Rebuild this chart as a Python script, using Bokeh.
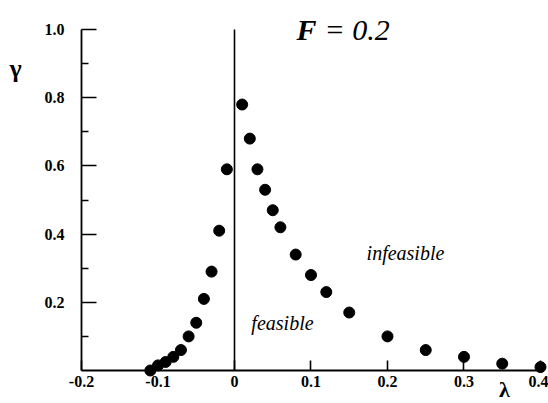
from bokeh.plotting import figure
from bokeh.models import Range1d, FixedTicker, CustomJSTickFormatter, Label, ColumnDataSource
from bokeh.embed import file_html
from bokeh.resources import INLINE

# ---- data ----
left_lambda = [-0.11, -0.10, -0.09, -0.08, -0.07, -0.06, -0.05, -0.04, -0.03, -0.02, -0.01]
left_gamma = [0.0, 0.015, 0.025, 0.04, 0.06, 0.10, 0.14, 0.21, 0.29, 0.41, 0.59]
right_lambda = [0.01, 0.02, 0.03, 0.04, 0.05, 0.06, 0.08, 0.10, 0.12, 0.15, 0.20, 0.25, 0.30, 0.35, 0.40]
right_gamma = [0.78, 0.68, 0.59, 0.53, 0.47, 0.42, 0.34, 0.28, 0.23, 0.17, 0.10, 0.06, 0.04, 0.02, 0.01]
divider_lambda = [0.0, 0.0]
divider_gamma = [0.0, 1.0]
x_ticks = [-0.2, -0.1, 0.0, 0.1, 0.2, 0.3, 0.4]
y_major_ticks = [0.2, 0.4, 0.6, 0.8, 1.0]
y_minor_ticks = [0.1, 0.3, 0.5, 0.7, 0.9]

SERIF = "Liberation Serif"

# frame covers the whole canvas; axes are placed at fixed data locations
p = figure(width=548, height=403, output_backend="svg", toolbar_location=None,
           x_range=Range1d(-0.30588, 0.41046), y_range=Range1d(-0.09677, 1.08504),
           min_border_left=0, min_border_right=0, min_border_top=0, min_border_bottom=0)
p.outline_line_color = None
p.xgrid.visible = False
p.ygrid.visible = False
p.background_fill_color = "white"

# divider line at lambda = 0
p.line(divider_lambda, divider_gamma, line_color="black", line_width=1.6)

src = ColumnDataSource(dict(x=left_lambda + right_lambda, y=left_gamma + right_gamma))
p.scatter("x", "y", source=src, size=11, fill_color="black", line_color="black")

# axes
xa = p.xaxis[0]
xa.fixed_location = 0
xa.bounds = (-0.2, 0.4)
xa.ticker = FixedTicker(ticks=x_ticks)
xa.formatter = CustomJSTickFormatter(code="return Math.abs(tick) < 1e-9 ? '0' : tick.toFixed(1);")
xa.major_tick_in = 10
xa.major_tick_out = 0
xa.minor_tick_line_color = None
xa.axis_line_width = 1.8
xa.major_tick_line_width = 1.6
xa.major_label_standoff = 5
xa.major_label_text_font = SERIF
xa.major_label_text_font_style = "bold"
xa.major_label_text_font_size = "16px"
xa.major_label_text_color = "black"

ya = p.yaxis[0]
ya.fixed_location = -0.2
ya.bounds = (0, 1.0)
ya.ticker = FixedTicker(ticks=y_major_ticks, minor_ticks=y_minor_ticks)
ya.formatter = CustomJSTickFormatter(code="return tick.toFixed(1);")
ya.major_tick_in = 15
ya.major_tick_out = 0
ya.minor_tick_in = 7
ya.minor_tick_out = 0
ya.axis_line_width = 1.8
ya.major_tick_line_width = 1.6
ya.minor_tick_line_width = 1.6
ya.major_label_standoff = 17
ya.major_label_text_font = SERIF
ya.major_label_text_font_style = "bold"
ya.major_label_text_font_size = "16px"
ya.major_label_text_color = "black"

# annotations
p.add_layout(Label(x=0.0810, y=1.0, text="F", text_font=SERIF, text_font_style="bold italic",
                   text_font_size="30px", text_color="black", text_align="left", text_baseline="alphabetic"))
p.add_layout(Label(x=0.1176, y=1.0, text="= 0.2", text_font=SERIF, text_font_style="italic",
                   text_font_size="30px", text_color="black", text_align="left", text_baseline="alphabetic"))
p.add_layout(Label(x=0.2235, y=0.346, text="infeasible", text_font=SERIF, text_font_style="italic",
                   text_font_size="20px", text_color="black", text_align="center", text_baseline="middle"))
p.add_layout(Label(x=0.0627, y=0.138, text="feasible", text_font=SERIF, text_font_style="italic",
                   text_font_size="20px", text_color="black", text_align="center", text_baseline="middle"))
p.add_layout(Label(x=-0.2863, y=0.886, text="γ", text_font=SERIF, text_font_style="bold",
                   text_font_size="26px", text_color="black", text_align="center", text_baseline="middle"))
p.add_layout(Label(x=0.3529, y=-0.0557, text="λ", text_font=SERIF, text_font_style="bold",
                   text_font_size="22px", text_color="black", text_align="center", text_baseline="middle"))

open("out.html", "w").write(file_html(p, INLINE))
